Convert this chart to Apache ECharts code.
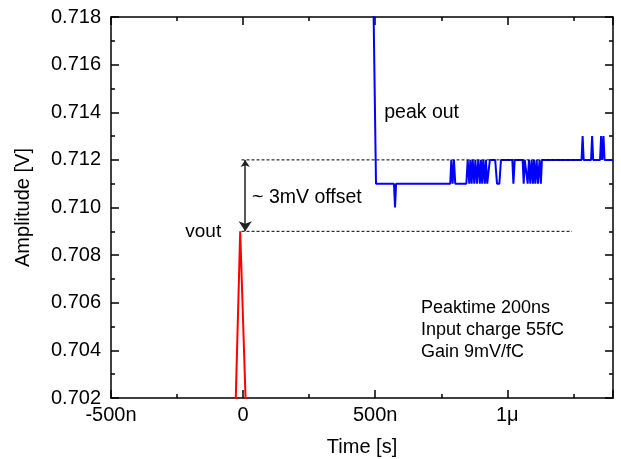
<!DOCTYPE html>
<html>
<head>
<meta charset="utf-8">
<script src="https://cdn.jsdelivr.net/npm/echarts@6/dist/echarts.min.js"></script>
<style>
  html, body { margin: 0; padding: 0; background: #fff; }
  #chart { width: 621px; height: 459px; }
</style>
</head>
<body>
<div id="chart"></div>
<script>
// time in ns, amplitude in V
var xTickVals = [-500, 0, 500, 1000];
var xTickLabels = ["-500n", "0", "500n", "1\u03bc"];

// vout (red)
var redT = [-32, -11, -7, 15];
var redV = [0.7002, 0.709, 0.709, 0.700];

// peak out (blue)
var blueT = [489, 503, 571, 575, 579, 784, 788, 793, 798, 803, 845,
  850, 856, 860, 865, 869, 875, 879, 885, 890, 896, 900, 905, 909, 915, 919, 924,
  934, 954, 961, 970, 976, 1019, 1023, 1028,
  1058, 1062, 1066, 1073, 1077, 1082, 1087, 1092, 1097, 1101, 1106, 1111, 1116, 1122, 1127, 1131,
  1281, 1285, 1289, 1317, 1321, 1325, 1351, 1355, 1359, 1364, 1368, 1400];
var blueV = [0.722, 0.711, 0.711, 0.710, 0.711, 0.711, 0.712, 0.711, 0.712, 0.711, 0.711,
  0.712, 0.711, 0.712, 0.711, 0.712, 0.711, 0.712, 0.711, 0.712, 0.711, 0.712, 0.711, 0.712, 0.711, 0.712, 0.711,
  0.712, 0.712, 0.711, 0.711, 0.712, 0.712, 0.711, 0.712,
  0.712, 0.711, 0.712, 0.712, 0.711, 0.712, 0.711, 0.712, 0.711, 0.712, 0.711, 0.712, 0.711, 0.712, 0.711, 0.712,
  0.712, 0.713, 0.712, 0.712, 0.713, 0.712, 0.712, 0.713, 0.712, 0.713, 0.712, 0.712];

// guide lines
var upperGuide = [[-6, 0.712], [1273, 0.712]];
var lowerGuide = [[-6, 0.709], [1245, 0.709]];
var offsetArrow = [[8, 0.712], [8, 0.709]];

// annotations [t, v, text, align, size]
var notes = [
  [534, 0.7140, "peak out", "left", 19.5],
  [34, 0.7104, "~ 3mV offset", "left", 19.5],
  [-83, 0.7090, "vout", "right", 19],
  [673, 0.70486, "Peaktime 200ns\nInput charge 55fC\nGain 9mV/fC", "left", 18]
];

function zip(a, b) {
  return a.map(function (v, i) { return [v, b[i]]; });
}

var myChart = echarts.init(document.getElementById("chart"));
var font = "Liberation Sans";
var black = "#000";

var xMajor = function (pos, show) {
  return {
    type: "value", position: pos, min: -500, max: 1400, interval: 500,
    name: show ? "Time [s]" : "", nameLocation: "middle", nameGap: 39,
    nameTextStyle: { color: black, fontSize: 20, fontFamily: font },
    axisLine: { show: true, onZero: false, lineStyle: { color: black, width: 1.5 } },
    axisTick: { show: true, inside: true, length: 8, lineStyle: { color: black, width: 1.5 } },
    axisLabel: {
      show: show, color: black, fontSize: 20, fontFamily: font, margin: 7,
      formatter: function (v) {
        var i = xTickVals.indexOf(Math.round(v));
        return i < 0 ? "" : xTickLabels[i];
      }
    },
    splitLine: { show: false }
  };
};
var xMinor = function (pos) {
  return {
    type: "value", position: pos, min: -500, max: 1400, interval: 250,
    axisLine: { show: false },
    axisTick: { show: true, inside: true, length: 4, lineStyle: { color: black, width: 1.5 } },
    axisLabel: { show: false },
    splitLine: { show: false }
  };
};
var yAx = function (pos, show) {
  return {
    type: "value", position: pos, min: 0.702, max: 0.718, interval: 0.002,
    name: show ? "Amplitude [V]" : "", nameLocation: "middle", nameGap: 78,
    nameTextStyle: { color: black, fontSize: 20, fontFamily: font },
    axisLine: { show: true, onZero: false, lineStyle: { color: black, width: 1.5 } },
    axisTick: { show: true, inside: true, length: 8, lineStyle: { color: black, width: 1.5 } },
    minorTick: { show: true, splitNumber: 2, length: 4, lineStyle: { color: black, width: 1.5 } },
    axisLabel: {
      show: show, color: black, fontSize: 20, fontFamily: font, margin: 10,
      formatter: function (v) { return v.toFixed(3); }
    },
    splitLine: { show: false }
  };
};

var option = {
  backgroundColor: "#fff",
  animation: false,
  grid: { left: 111, right: 8, top: 17, bottom: 61, containLabel: false, outerBoundsMode: "none" },
  xAxis: [xMajor("bottom", true), xMajor("top", false), xMinor("bottom"), xMinor("top")],
  yAxis: [yAx("left", true), yAx("right", false)],
  series: [
    {
      type: "line", data: zip(redT, redV), symbol: "none",
      lineStyle: { color: "#ff0000", width: 2 }
    },
    {
      type: "line", data: zip(blueT, blueV), symbol: "none",
      lineStyle: { color: "#0000ff", width: 2 }
    },
    {
      type: "line", data: upperGuide, symbol: "none",
      lineStyle: { color: black, width: 1, type: [3, 2] }, z: 5
    },
    {
      type: "line", data: lowerGuide, symbol: "none",
      lineStyle: { color: black, width: 1, type: [3, 2] }, z: 5
    },
    {
      type: "lines", coordinateSystem: "cartesian2d",
      data: [{ coords: offsetArrow }],
      symbol: ["arrow", "arrow"], symbolSize: [7, 10],
      lineStyle: { color: "#222", width: 1.5, opacity: 1 }, z: 6
    },
    {
      type: "scatter", symbolSize: 0, silent: true,
      itemStyle: { opacity: 1 },
      data: notes.map(function (n) {
        return {
          value: [n[0], n[1]],
          label: {
            show: true, position: "inside", formatter: n[2],
            align: n[3], verticalAlign: "middle",
            color: "#000", fontSize: n[4], fontFamily: font, lineHeight: 22
          }
        };
      })
    }
  ]
};
myChart.setOption(option);
window.onresize = function () {
  myChart.resize();
};
</script>
</body>
</html>
